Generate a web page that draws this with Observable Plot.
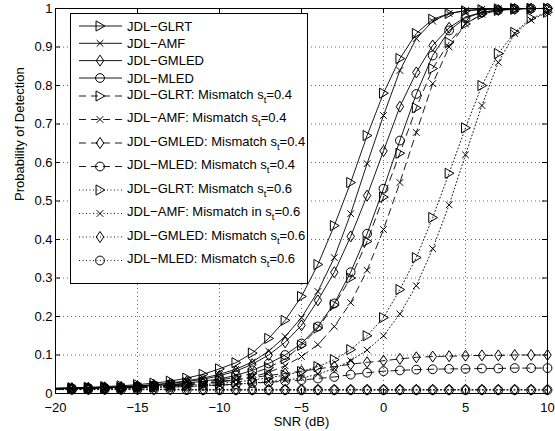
<!DOCTYPE html>
<html><head><meta charset="utf-8">
<script src="https://cdn.jsdelivr.net/npm/d3@7"></script>
<script src="https://cdn.jsdelivr.net/npm/@observablehq/plot@0.6"></script>
<style>body{margin:0;background:#fff} svg{display:block}</style>
</head><body><div id="chart"></div>
<script>
// ---- data ----
const snr = [-20,-19,-18,-17,-16,-15,-14,-13,-12,-11,-10,-9,-8,-7,-6,-5,-4,-3,-2,-1,0,1,2,3,4,5,6,7,8,9,10];

const glrt   = [0.014,0.015,0.016,0.018,0.020,0.023,0.027,0.032,0.040,0.050,0.064,0.080,0.105,0.143,0.190,0.252,0.335,0.436,0.548,0.670,0.780,0.870,0.935,0.972,0.987,0.994,0.997,0.999,1,1,1];
const amf    = [0.013,0.014,0.015,0.016,0.018,0.020,0.023,0.027,0.033,0.040,0.050,0.063,0.082,0.110,0.148,0.197,0.265,0.353,0.467,0.597,0.722,0.839,0.922,0.967,0.987,0.995,0.998,0.999,1,1,1];
const gmled  = [0.013,0.014,0.015,0.016,0.017,0.019,0.022,0.026,0.031,0.037,0.046,0.058,0.076,0.100,0.133,0.177,0.242,0.315,0.408,0.514,0.630,0.745,0.834,0.904,0.950,0.978,0.990,0.996,0.999,1,1];
const mled   = [0.012,0.013,0.014,0.015,0.016,0.018,0.020,0.023,0.027,0.032,0.038,0.047,0.060,0.078,0.100,0.130,0.174,0.234,0.315,0.415,0.532,0.657,0.778,0.878,0.943,0.975,0.990,0.996,0.999,1,1];
const glrt4  = [0.012,0.013,0.014,0.015,0.016,0.018,0.020,0.022,0.026,0.030,0.035,0.042,0.052,0.067,0.090,0.125,0.170,0.230,0.300,0.395,0.510,0.624,0.742,0.844,0.912,0.960,0.985,0.995,0.998,1,1];
const amf4   = [0.012,0.012,0.013,0.014,0.015,0.016,0.018,0.020,0.022,0.025,0.030,0.035,0.043,0.055,0.072,0.096,0.127,0.174,0.236,0.320,0.426,0.548,0.678,0.805,0.900,0.960,0.985,0.995,0.999,1,1];
const gmled4 = [0.012,0.013,0.014,0.015,0.016,0.017,0.019,0.021,0.024,0.027,0.031,0.036,0.041,0.047,0.052,0.058,0.064,0.070,0.076,0.081,0.085,0.090,0.094,0.096,0.097,0.098,0.099,0.099,0.100,0.100,0.100];
const mled4  = [0.012,0.012,0.013,0.013,0.014,0.015,0.016,0.017,0.018,0.020,0.022,0.024,0.027,0.029,0.032,0.035,0.039,0.043,0.049,0.054,0.058,0.060,0.062,0.063,0.064,0.064,0.065,0.065,0.066,0.066,0.066];
const glrt6  = [0.012,0.012,0.013,0.014,0.015,0.016,0.017,0.019,0.021,0.023,0.026,0.030,0.035,0.041,0.048,0.057,0.070,0.088,0.114,0.150,0.197,0.270,0.353,0.457,0.572,0.690,0.800,0.883,0.938,0.975,0.990];
const amf6   = [0.011,0.011,0.012,0.013,0.013,0.014,0.015,0.017,0.018,0.020,0.021,0.024,0.027,0.031,0.035,0.040,0.050,0.065,0.085,0.113,0.150,0.207,0.280,0.376,0.490,0.620,0.748,0.860,0.935,0.970,0.990];
const gmled6 = [0.011,0.011,0.011,0.011,0.011,0.011,0.011,0.011,0.011,0.010,0.010,0.010,0.010,0.010,0.010,0.010,0.010,0.010,0.010,0.010,0.010,0.010,0.010,0.010,0.010,0.010,0.010,0.010,0.010,0.010,0.010];
const mled6  = [0.010,0.010,0.010,0.010,0.010,0.010,0.010,0.010,0.009,0.009,0.009,0.009,0.009,0.009,0.009,0.009,0.009,0.009,0.009,0.009,0.009,0.009,0.009,0.009,0.009,0.009,0.009,0.009,0.009,0.009,0.009];

const seriesValues = [glrt, amf, gmled, mled, glrt4, amf4, gmled4, mled4, glrt6, amf6, gmled6, mled6];
// legend labels: [main text, subscript, after]
const legendLabels = [
  ["JDL\u2212GLRT"], ["JDL\u2212AMF"], ["JDL\u2212GMLED"], ["JDL\u2212MLED"],
  ["JDL\u2212GLRT: Mismatch s", "t", "=0.4"],
  ["JDL\u2212AMF: Mismatch s", "t", "=0.4"],
  ["JDL\u2212GMLED: Mismatch s", "t", "=0.4"],
  ["JDL\u2212MLED: Mismatch s", "t", "=0.4"],
  ["JDL\u2212GLRT: Mismatch s", "t", "=0.6"],
  ["JDL\u2212AMF: Mismatch in s", "t", "=0.6"],
  ["JDL\u2212GMLED: Mismatch s", "t", "=0.6"],
  ["JDL\u2212MLED: Mismatch s", "t", "=0.6"]
];
const xTicks = [-20,-15,-10,-5,0,5,10];
const yTicks = [0,0.1,0.2,0.3,0.4,0.5,0.6,0.7,0.8,0.9,1];
const xTickLabels = ["\u221220","\u221215","\u221210","\u22125","0","5","10"];
const yTickLabels = ["0","0.1","0.2","0.3","0.4","0.5","0.6","0.7","0.8","0.9","1"];

// ---- styles ----
const symTri = {draw(c, size){const s=Math.sqrt(size/Math.PI); c.moveTo(1.1*s,0); c.lineTo(-0.9*s,-1.15*s); c.lineTo(-0.9*s,1.15*s); c.closePath();}};
const symX = {draw(c, size){const s=Math.sqrt(size/Math.PI)*0.75; c.moveTo(-s,-s); c.lineTo(s,s); c.moveTo(-s,s); c.lineTo(s,-s);}};
const symDia = {draw(c, size){const s=Math.sqrt(size/Math.PI); c.moveTo(0,-1.25*s); c.lineTo(0.85*s,0); c.lineTo(0,1.25*s); c.lineTo(-0.85*s,0); c.closePath();}};
const symCirc = {draw(c, size){const s=Math.sqrt(size/Math.PI); c.moveTo(s,0); c.arc(0,0,s,0,2*Math.PI);}};
const symbols = [symTri, symX, symDia, symCirc];
const dashes = [null, "7,5", "1,2.5"];
const R = 4.4;
const SW = 1;

const W = 555, H = 431, ML = 55, MR = 8, MT = 8, MB = 38;
const FW = W - ML - MR, FH = H - MT - MB;
const FONT = "'Liberation Sans', Arial, Helvetica, sans-serif";

const lineMarks = [], dotMarks = [];
seriesValues.forEach((vals, i) => {
  const data = snr.map((x, j) => ({x, p: vals[j]}));
  const dash = dashes[Math.floor(i / 4)];
  lineMarks.push(Plot.line(data, {x: "x", y: "p", stroke: "black", strokeWidth: 0.9, strokeDasharray: dash || undefined}));
  dotMarks.push(Plot.dot(data.filter(d => d.x > -20), {x: "x", y: "p", symbol: symbols[i % 4], r: R, fill: "none", stroke: "black", strokeWidth: SW}));
});

const xFmt = d => xTickLabels[xTicks.indexOf(d)];
const yFmt = d => yTickLabels[yTicks.findIndex(t => Math.abs(t - d) < 1e-9)];

const chart = Plot.plot({
  width: W, height: H,
  marginLeft: ML, marginRight: MR, marginTop: MT, marginBottom: MB,
  style: {fontFamily: FONT, fontSize: "13px", background: "white", color: "black"},
  x: {domain: [-20, 10], axis: null},
  y: {domain: [0, 1], axis: null},
  marks: [
    Plot.ruleX(xTicks, {x: d => d, stroke: "black", strokeOpacity: 0.6, strokeWidth: 1, strokeDasharray: "1,3"}),
    Plot.ruleY(yTicks, {y: d => d, stroke: "black", strokeOpacity: 0.6, strokeWidth: 1, strokeDasharray: "1,3"}),
    ...lineMarks,
    ...dotMarks,
    Plot.tickX(xTicks, {x: d => d, insetTop: FH - 5, stroke: "black"}),
    Plot.tickX(xTicks, {x: d => d, insetBottom: FH - 5, stroke: "black"}),
    Plot.tickY(yTicks, {y: d => d, insetRight: FW - 5, stroke: "black"}),
    Plot.tickY(yTicks, {y: d => d, insetLeft: FW - 5, stroke: "black"}),
    Plot.frame({stroke: "black", strokeWidth: 1}),
    Plot.axisX({ticks: xTicks, tickSize: 0, tickPadding: 9, tickFormat: xFmt, label: null}),
    Plot.axisY({ticks: yTicks, tickSize: 0, tickPadding: 3, tickFormat: yFmt, label: null}),
    Plot.text(["SNR (dB)"], {frameAnchor: "bottom", dy: 32, text: d => d, fontSize: 13}),
    Plot.text(["Probability of Detection"], {frameAnchor: "left", dx: -36, rotate: -90, text: d => d, fontSize: 13})
  ]
});

// ---- legend ----
const svg = d3.select(chart);
const lg = svg.append("g").attr("font-family", FONT).attr("font-size", 13).attr("text-anchor", "start");
lg.append("rect").attr("x", 70.5).attr("y", 13.5).attr("width", 237).attr("height", 270)
  .attr("fill", "white").attr("stroke", "black").attr("stroke-width", 1);
const rowY = [26, 43.3, 60.6, 78, 96, 119.5, 143, 166.5, 190, 213.5, 237, 260.5];
legendLabels.forEach((lab, i) => {
  const y = rowY[i];
  const dash = dashes[Math.floor(i / 4)];
  const ln = lg.append("line").attr("x1", 79).attr("x2", 122).attr("y1", y).attr("y2", y)
    .attr("stroke", "black").attr("stroke-width", 0.9);
  if (dash) ln.attr("stroke-dasharray", dash);
  lg.append("path").attr("transform", `translate(100,${y})`)
    .attr("d", d3.symbol(symbols[i % 4], Math.PI * R * R)())
    .attr("fill", "none").attr("stroke", "black").attr("stroke-width", SW);
  const t = lg.append("text").attr("x", 127).attr("y", lab.length > 1 ? y + 2.5 : y + 4.6);
  t.append("tspan").text(lab[0]);
  if (lab.length > 1) {
    t.append("tspan").attr("dy", 4).attr("font-size", 9.5).text(lab[1]);
    t.append("tspan").attr("dy", -4).attr("font-size", 13).text(lab[2]);
  }
});

document.getElementById("chart").appendChild(chart);
</script></body></html>
